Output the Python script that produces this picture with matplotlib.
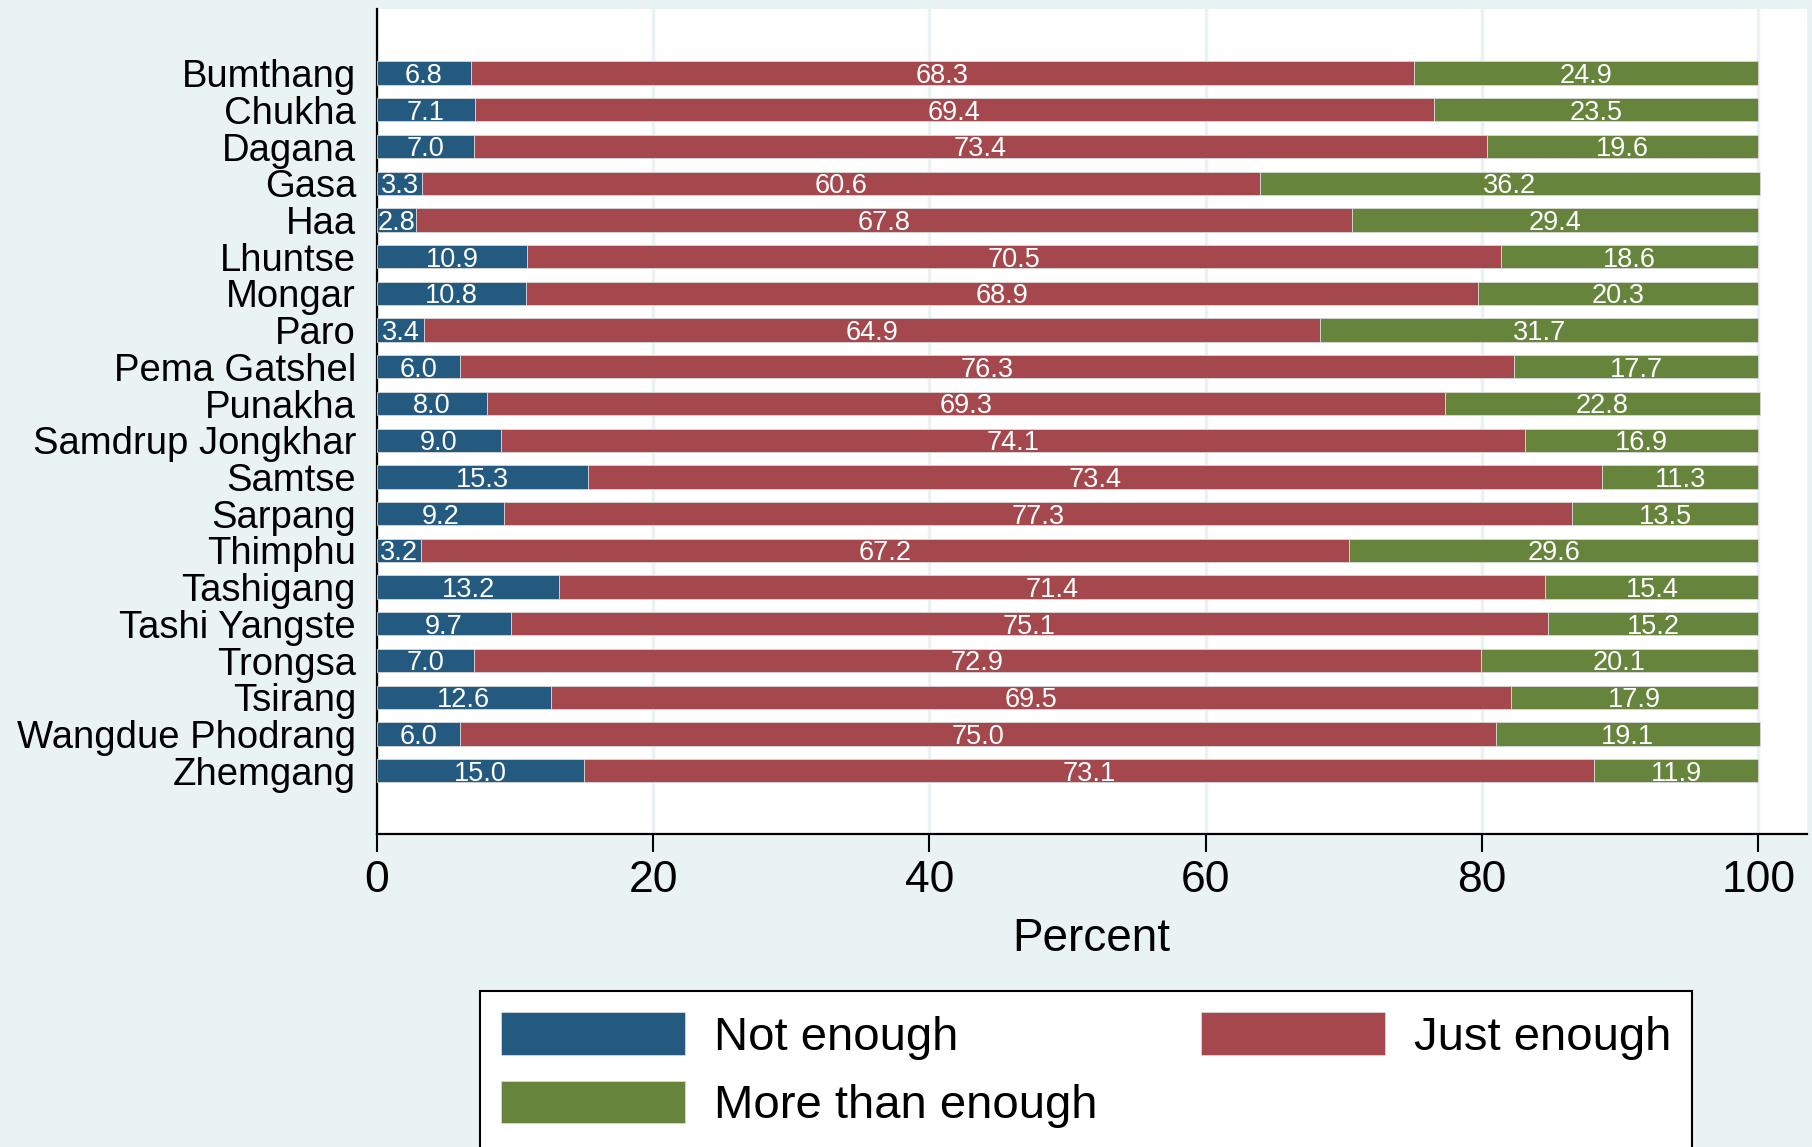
import matplotlib
matplotlib.use("Agg")
import matplotlib.pyplot as plt
import numpy as np

plt.rcParams['font.family'] = ['Liberation Sans', 'DejaVu Sans']

districts = ['Bumthang', 'Chukha', 'Dagana', 'Gasa', 'Haa', 'Lhuntse', 'Mongar',
             'Paro', 'Pema Gatshel', 'Punakha', 'Samdrup Jongkhar', 'Samtse',
             'Sarpang', 'Thimphu', 'Tashigang', 'Tashi Yangste', 'Trongsa',
             'Tsirang', 'Wangdue Phodrang', 'Zhemgang']
not_enough = [6.8, 7.1, 7.0, 3.3, 2.8, 10.9, 10.8, 3.4, 6.0, 8.0,
              9.0, 15.3, 9.2, 3.2, 13.2, 9.7, 7.0, 12.6, 6.0, 15.0]
just_enough = [68.3, 69.4, 73.4, 60.6, 67.8, 70.5, 68.9, 64.9, 76.3, 69.3,
               74.1, 73.4, 77.3, 67.2, 71.4, 75.1, 72.9, 69.5, 75.0, 73.1]
more_than = [24.9, 23.5, 19.6, 36.2, 29.4, 18.6, 20.3, 31.7, 17.7, 22.8,
             16.9, 11.3, 13.5, 29.6, 15.4, 15.2, 20.1, 17.9, 19.1, 11.9]
series_names = ['Not enough', 'Just enough', 'More than enough']
colors = ['#245A80', '#A4484D', '#66843C']

bg = '#EAF3F3'
fig = plt.figure(figsize=(18.12, 11.47), dpi=100, facecolor=bg)
ax = fig.add_axes([0.208, 0.273, 0.789, 0.719])
ax.set_facecolor('white')

y = np.arange(len(districts))
left = np.zeros(len(districts))
handles = []
for vals, name, c in zip([not_enough, just_enough, more_than], series_names, colors):
    vals = np.array(vals)
    b = ax.barh(y, vals, left=left, height=0.635, color=c, edgecolor='#d8d8d8',
                linewidth=0.6, label=name, zorder=3)
    handles.append(b)
    for yi, l, v in zip(y, left, vals):
        ax.text(l + v / 2, yi + 0.08, f'{v:.1f}', ha='center', va='center',
                color='white', fontsize=19.5, zorder=4)
    left = left + vals

ax.set_xlim(0, 103.5)
ax.set_ylim(len(districts) - 1 + 1.72, -1.74)
ax.set_yticks(y)
ax.set_yticklabels(districts, fontsize=27.5)
ax.tick_params(axis='y', length=0, pad=15)
ax.set_xticks([0, 20, 40, 60, 80, 100])
ax.tick_params(axis='x', labelsize=32, length=13, width=1.5, pad=6)
ax.set_xlabel('Percent', fontsize=33, labelpad=11)
ax.grid(axis='x', color=bg, linewidth=2.5, zorder=0)
ax.grid(axis='y', visible=False)

for s in ['top', 'right']:
    ax.spines[s].set_visible(False)
for s in ['left', 'bottom']:
    ax.spines[s].set_linewidth(1.6)

leg = fig.legend([handles[0], handles[2], handles[1]],
                 ['Not enough', 'More than enough', 'Just enough'],
                 ncol=2, loc='upper left', bbox_to_anchor=(480 / 1812, 1 - 991 / 1147),
                 fontsize=34, frameon=True, fancybox=False, edgecolor='black',
                 facecolor='white', framealpha=1,
                 handlelength=3.9, handleheight=1.0, handletextpad=0.6,
                 columnspacing=2.2, labelspacing=0.45, borderpad=0.45,
                 borderaxespad=0)
leg.get_frame().set_linewidth(1.5)

fig.savefig('out.png', dpi=100, facecolor=bg)
